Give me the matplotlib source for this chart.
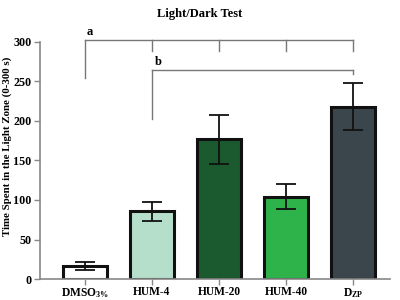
import matplotlib
matplotlib.use('Agg')
import matplotlib.pyplot as plt
import numpy as np

plt.rcParams['font.family'] = ['Liberation Serif', 'DejaVu Serif']
plt.rcParams['font.weight'] = 'bold'
plt.rcParams['mathtext.fontset'] = 'custom'
plt.rcParams['mathtext.rm'] = 'Liberation Serif:bold'
plt.rcParams['mathtext.it'] = 'Liberation Serif:bold'

groups = ['DMSO$_{3\\%}$', 'HUM-4', 'HUM-20', 'HUM-40', 'D$_{ZP}$']
means = [16, 86, 177, 104, 218]
errors = [5, 12, 31, 16, 30]
colors = ['#ffffff', '#b6dfcb', '#1b5a2e', '#2eb34b', '#3b464c']

fig = plt.figure(figsize=(4, 3), dpi=100)
ax = fig.add_axes([0.1, 0.07, 0.875, 0.79])

x = np.arange(len(groups))
ax.bar(x, means, width=0.66, color=colors, edgecolor='#111111', linewidth=2.2, zorder=2)
ax.errorbar(x, means, yerr=errors, fmt='none', ecolor='#111111', elinewidth=1.3,
            capsize=7, capthick=1.3, zorder=3)

ax.set_xlim(-0.67, 4.55)
ax.set_ylim(0, 300)
ax.set_yticks([0, 50, 100, 150, 200, 250, 300])
ax.set_xticks(x)
ax.set_xticklabels(groups)
ax.tick_params(axis='both', colors='#888888', labelcolor='black', length=4, width=1)
ax.tick_params(axis='y', labelsize=8.7, pad=2)
ax.tick_params(axis='x', labelsize=8.3, pad=1)
for lbl in ax.get_xticklabels() + ax.get_yticklabels():
    lbl.set_fontweight('bold')
for s in ['top', 'right']:
    ax.spines[s].set_visible(False)
for s in ['left', 'bottom']:
    ax.spines[s].set_color('#888888')
    ax.spines[s].set_linewidth(1.2)

fig.text(0.017, 0.513, 'Time Spent in the Light Zone (0-300 s)', rotation=90,
         ha='center', va='center', fontsize=7.8, fontweight='bold')
fig.text(0.5, 0.975, 'Light/Dark Test', ha='center', va='top', fontsize=9, fontweight='bold')

# significance brackets
lc = '#777777'
ax.plot([x[0], x[-1]], [303, 303], color=lc, lw=1, clip_on=False)
ax.plot([x[0], x[0]], [303, 254], color=lc, lw=1, clip_on=False)
for xi in x[1:]:
    ax.plot([xi, xi], [303, 289], color=lc, lw=1, clip_on=False)
ax.text(x[0] + 0.02, 305, 'a', fontsize=9, fontweight='bold', va='bottom', ha='left')

ax.plot([x[1], x[-1]], [265, 265], color=lc, lw=1, clip_on=False)
ax.plot([x[1], x[1]], [265, 202], color=lc, lw=1, clip_on=False)
ax.plot([x[-1], x[-1]], [265, 259], color=lc, lw=1, clip_on=False)
ax.text(x[1] + 0.04, 267, 'b', fontsize=9, fontweight='bold', va='bottom', ha='left')

fig.savefig('out.png', dpi=100)
